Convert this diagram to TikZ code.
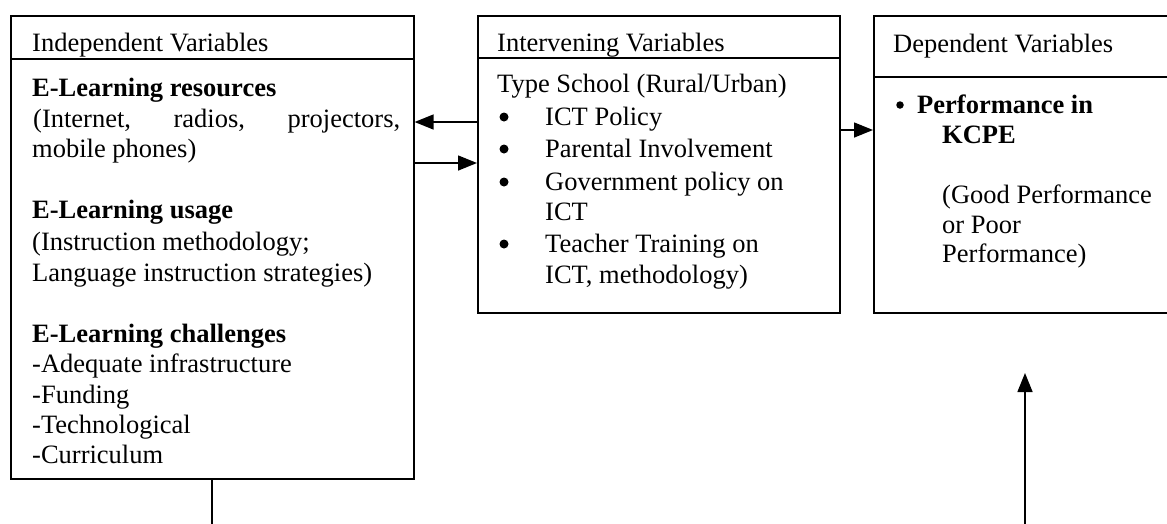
\documentclass[tikz,border=0pt]{standalone}
\usepackage{fontspec}
\setmainfont{Liberation Serif}
\usetikzlibrary{arrows.meta}
\tikzset{
  box/.style={draw, line width=1.6pt, rectangle, anchor=north west, inner sep=0pt},
  txt/.style={anchor=base west, inner sep=0pt, font=\fontsize{26.5}{30}\selectfont},
  dot/.style={circle, fill, inner sep=0pt, minimum size=#1},
  arr/.style={line width=1.5pt, -{Triangle[length=19pt,width=15pt]}},
  plain/.style={line width=1.2pt}
}
\begin{document}
\begin{tikzpicture}[x=1pt,y=-1pt]
\useasboundingbox (0,0) rectangle (1167,523);
% boxes
\node[box, minimum width=403pt, minimum height=463pt] (ind) at (10,15) {};
\node[box, minimum width=362pt, minimum height=297pt] (int) at (477,15) {};
\node[box, minimum width=302pt, minimum height=297pt] (dep) at (873,15) {};
\draw[line width=1.6pt] (10,59) -- (413,59);
\draw[line width=1.6pt] (477,58) -- (839,58);
\draw[line width=1.6pt] (873,77) -- (1175,77);
% box 1 text
\node[txt] (h1) at (32,51) {Independent Variables};
\node[txt] (a1) at (32,96) {\bfseries E-Learning resources};
\node[txt] (a2) at (33,127) {\makebox[367pt][s]{(Internet, radios, projectors,}};
\node[txt] (a3) at (32,157) {mobile phones)};
\node[txt] (b1) at (32,218) {\bfseries E-Learning usage};
\node[txt] (b2) at (32,250) {(Instruction methodology;};
\node[txt] (b3) at (32,281) {Language instruction strategies)};
\node[txt] (c1) at (32,342) {\bfseries E-Learning challenges};
\node[txt] (c2) at (32,372) {-Adequate infrastructure};
\node[txt] (c3) at (32,403) {-Funding};
\node[txt] (c4) at (32,433) {-Technological};
\node[txt] (c5) at (32,463) {-Curriculum};
% box 2 text
\node[txt] (h2) at (497,51) {Intervening Variables};
\node[txt] (t0) at (497,92) {Type School (Rural/Urban)};
\node[dot=9pt] (p1) at (504,117) {};
\node[txt] (t1) at (545,125) {ICT Policy};
\node[dot=9pt] (p2) at (504,149) {};
\node[txt] (t2) at (545,157) {Parental Involvement};
\node[dot=9pt] (p3) at (504,182) {};
\node[txt] (t3) at (545,190) {Government policy on};
\node[txt] (t3b) at (545,220) {ICT};
\node[dot=9pt] (p4) at (504,244) {};
\node[txt] (t4) at (545,252) {Teacher Training on};
\node[txt] (t4b) at (545,283) {ICT, methodology)};
% box 3 text
\node[txt] (h3) at (893,52) {Dependent Variables};
\node[dot=7.5pt] (q1) at (900,105) {};
\node[txt] (k1) at (917,113) {\bfseries Performance in};
\node[txt] (k2) at (942,143) {\bfseries KCPE};
\node[txt] (g1) at (942,203) {(Good Performance};
\node[txt] (g2) at (942,233) {or Poor};
\node[txt] (g3) at (942,262) {Performance)};
% connectors
\coordinate (ya) at (0,122);
\coordinate (yb) at (0,163);
\coordinate (yc) at (0,130);
\draw[arr] (int.west |- ya) -- (ind.east |- ya);
\draw[arr] (ind.east |- yb) -- (int.west |- yb);
\draw[arr] (int.east |- yc) -- (dep.west |- yc);
\coordinate (bl) at (212,524);
\draw[plain] (ind.south -| bl) -- (bl);
\coordinate (ub) at (1025,524);
\coordinate (ut) at (1025,373);
\draw[arr] (ub) -- (ut);
\end{tikzpicture}
\end{document}
